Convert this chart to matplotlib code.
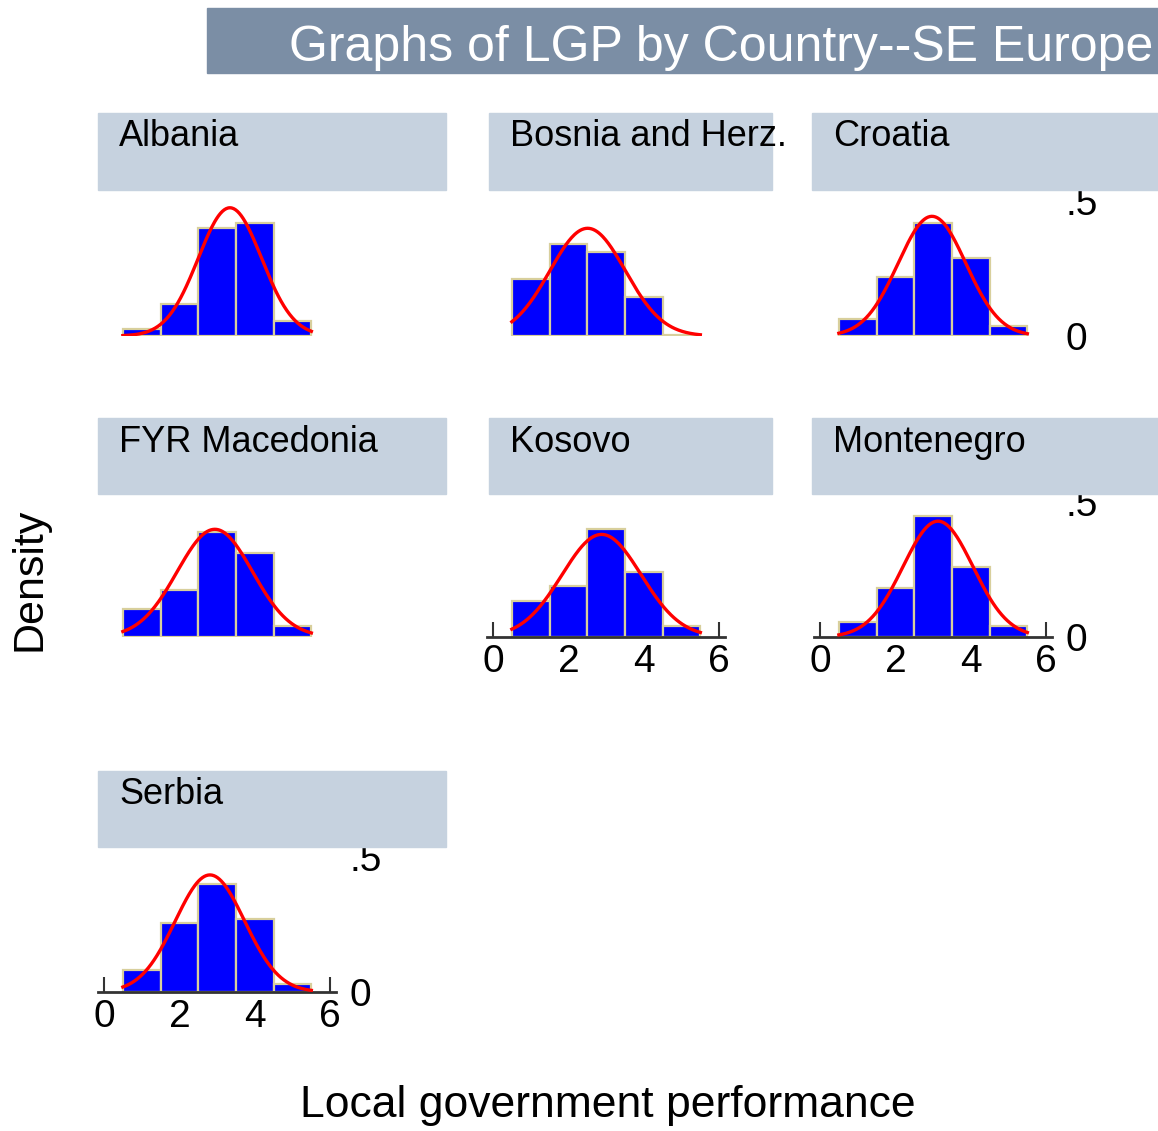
import numpy as np
import matplotlib.pyplot as plt
from matplotlib.patches import Rectangle

plt.rcParams['font.family'] = ['Liberation Sans', 'DejaVu Sans']

countries = ["Albania", "Bosnia and Herz.", "Croatia",
             "FYR Macedonia", "Kosovo", "Montenegro", "Serbia"]
bin_left = [0.5, 1.5, 2.5, 3.5, 4.5]
heights = [
    [0.026, 0.12, 0.40, 0.42, 0.055],
    [0.21, 0.34, 0.31, 0.144, 0.005],
    [0.063, 0.22, 0.42, 0.29, 0.037],
    [0.105, 0.173, 0.39, 0.31, 0.04],
    [0.135, 0.19, 0.40, 0.24, 0.04],
    [0.056, 0.18, 0.45, 0.26, 0.04],
    [0.08, 0.255, 0.40, 0.27, 0.03],
]
means = [3.34, 2.51, 2.97, 2.94, 2.88, 3.13, 2.81]
sds = [0.84, 1.0, 0.9, 1.0, 1.05, 0.93, 0.92]
xticks = [0, 2, 4, 6]
yticks = [0, 0.5]
ytick_labels = ["0", ".5"]

W, H = 1158, 1131
fig = plt.figure(figsize=(W / 100, H / 100), dpi=100)

def fx(px):
    return px / W

def fy(py):
    return 1 - py / H

# layout in pixels
col_x0 = [104, 493, 820]          # pixel of x=0
header_x = [(98, 446), (489, 772), (812, 1158)]
row_base = [336, 637, 992]        # pixel of y=0
header_y = [(113, 190), (418, 494), (771, 847)]
xs = 37.7                         # px per x unit
ys = 270                          # px per density unit
xlo, xhi = -0.15, 6.15
ylo, yhi = 0.0, 0.53

# title bar
fig.patches.append(Rectangle((fx(207), fy(73)), fx(1158 - 207), (73 - 8) / H,
                             transform=fig.transFigure, color="#7b8ea5", zorder=0))
fig.text(fx(289), fy(48), "Graphs of LGP by Country--SE Europe", color="white",
         fontsize=36, va="center", ha="left")

bottom_row = {4, 5, 6}
right_col = {2, 5, 6}

for i, name in enumerate(countries):
    r, c = divmod(i, 3)
    hx0, hx1 = header_x[c]
    hy0, hy1 = header_y[r]
    fig.patches.append(Rectangle((fx(hx0), fy(hy1)), fx(hx1 - hx0), (hy1 - hy0) / H,
                                 transform=fig.transFigure, color="#c6d2df", zorder=0))
    fig.text(fx(hx0 + 21), fy(hy0 + 24), name, fontsize=26, va="center", ha="left")

    left = col_x0[c] + xlo * xs
    bottom = row_base[r]
    ax = fig.add_axes([fx(left), fy(bottom), fx((xhi - xlo) * xs), (yhi - ylo) * ys / H])
    ax.set_xlim(xlo, xhi)
    ax.set_ylim(ylo, yhi)
    ax.patch.set_alpha(0)
    ax.bar(bin_left, heights[i], width=1.0, align="edge", color="#0000ff",
           edgecolor="#d8cf9c", linewidth=1.6, zorder=2)
    xx = np.linspace(0.5, 5.5, 200)
    yy = np.exp(-0.5 * ((xx - means[i]) / sds[i]) ** 2) / (sds[i] * np.sqrt(2 * np.pi))
    ax.plot(xx, yy, color="red", lw=2.4, zorder=3)

    for s in ["top", "left", "right"]:
        ax.spines[s].set_visible(False)
    if i in bottom_row:
        ax.spines["bottom"].set_color("#333333")
        ax.spines["bottom"].set_linewidth(2)
        ax.set_xticks(xticks)
        ax.tick_params(axis="x", direction="in", length=11, width=1.5,
                       color="#333333", labelsize=28, pad=5)
    else:
        ax.spines["bottom"].set_visible(False)
        ax.set_xticks([])
    if i in right_col:
        ax.yaxis.tick_right()
        ax.set_yticks(yticks)
        ax.set_yticklabels(ytick_labels)
        ax.tick_params(axis="y", length=0, labelsize=28, pad=10)
    else:
        ax.set_yticks([])

fig.text(fx(30), fy(579), "Density", rotation=90, fontsize=31, va="center", ha="center")
fig.text(fx(608), fy(1105), "Local government performance", fontsize=32,
         va="center", ha="center")

fig.savefig("out.png", dpi=100)
